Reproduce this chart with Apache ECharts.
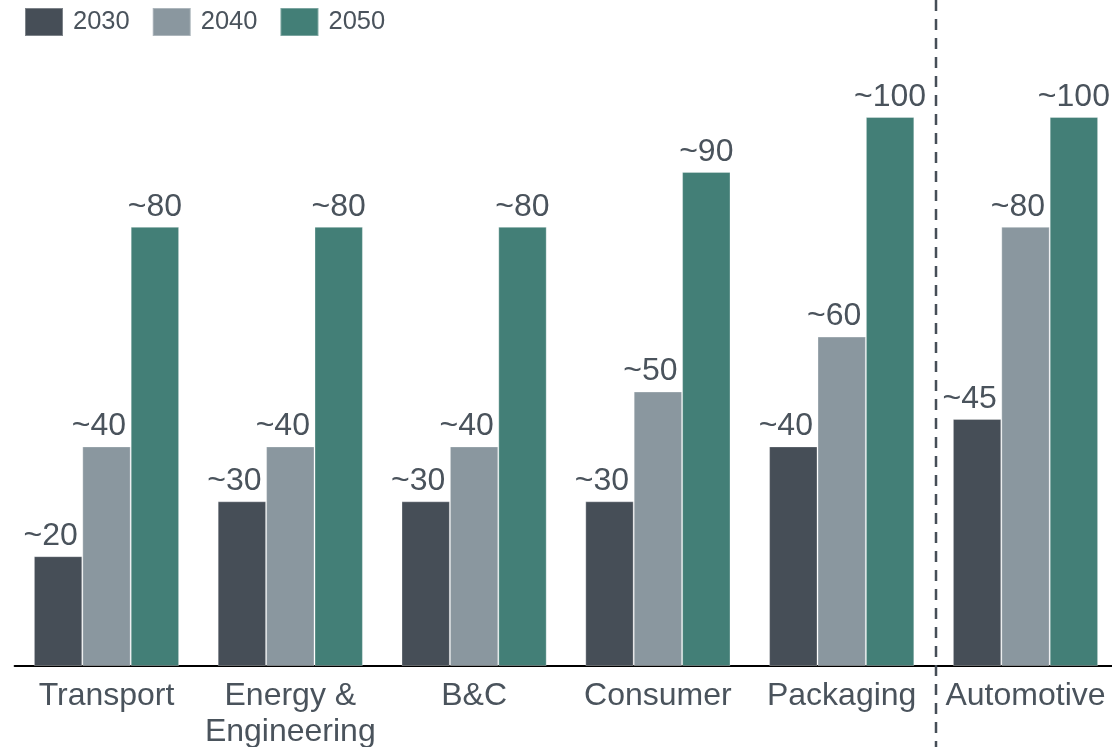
<!DOCTYPE html>
<html>
<head>
<meta charset="utf-8">
<script src="https://cdn.jsdelivr.net/npm/echarts@6/dist/echarts.min.js"></script>
<style>html,body{margin:0;padding:0;background:#fff}#c{width:1112px;height:747px}</style>
</head>
<body>
<div id="c"></div>
<script>
const categories = ['Transport', 'Energy &\nEngineering', 'B&C', 'Consumer', 'Packaging', 'Automotive'];
const seriesNames = ['2030', '2040', '2050'];
const values2030 = [20, 30, 30, 30, 40, 45];
const values2040 = [40, 40, 40, 50, 60, 80];
const values2050 = [80, 80, 80, 90, 100, 100];
const colors = ['#464e57', '#8a979f', '#437f77'];
const textColor = '#4a535c';

const chart = echarts.init(document.getElementById('c'));
const mk = (name, data, color, dx) => ({
  name, type: 'bar', data, barGap: '0%', barCategoryGap: '21%',
  itemStyle: { color, borderColor: 'rgba(255,255,255,0.3)', borderWidth: 1 },
  label: { show: true, position: 'top', distance: 4, offset: [dx, 0], formatter: p => '~' + p.value,
    color: textColor, fontSize: 32, fontFamily: 'Liberation Sans, Arial, sans-serif' }
});
chart.setOption({
  animation: false,
  textStyle: { fontFamily: 'Liberation Sans, Arial, sans-serif' },
  legend: {
    left: 19, top: 2, itemWidth: 38, itemHeight: 28, itemGap: 22,
    icon: 'rect',
    textStyle: { color: textColor, fontSize: 25.5, padding: [0, 0, 0, 5] },
    data: seriesNames
  },
  grid: { left: 14.6, right: -5.4, top: 117, bottom: 81, containLabel: false, outerBoundsMode: 'none' },
  xAxis: {
    type: 'category', data: categories,
    axisLine: { lineStyle: { color: '#000', width: 2 } },
    axisTick: { show: false },
    axisLabel: { color: textColor, fontSize: 32, margin: 12, lineHeight: 36, interval: 0 }
  },
  yAxis: { type: 'value', min: 0, max: 100, show: false, splitLine: { show: false } },
  series: [
    mk(seriesNames[0], values2030, colors[0], -7.5),
    mk(seriesNames[1], values2040, colors[1], -7.5),
    mk(seriesNames[2], values2050, colors[2], 0)
  ]
});
const x4 = chart.convertToPixel({ xAxisIndex: 0 }, categories[4]);
const x5 = chart.convertToPixel({ xAxisIndex: 0 }, categories[5]);
const xd = Math.round((x4 + x5) / 2) + 2;
chart.setOption({
  graphic: [{
    type: 'line', shape: { x1: xd, y1: 0, x2: xd, y2: 747 },
    style: { stroke: '#464e57', lineWidth: 2.5, lineDash: [11, 8] }, z: 10
  }]
});
</script>
</body>
</html>
